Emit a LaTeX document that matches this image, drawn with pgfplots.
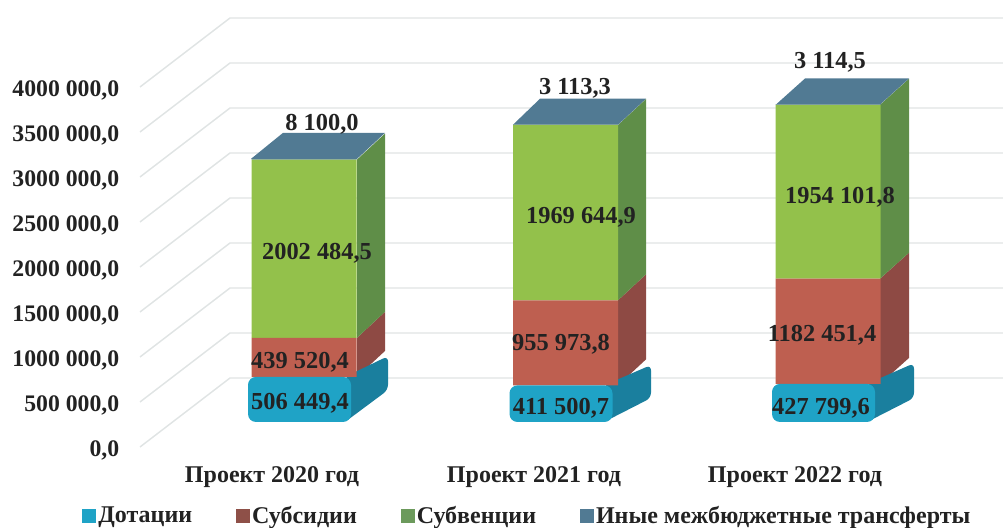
\documentclass[border=0pt]{standalone}
\usepackage{pgfplots}
\usepackage{pgfplotstable}
\usepackage{fontspec}
\setmainfont{Liberation Serif}
\pgfplotsset{compat=1.18}
\definecolor{gridc}{HTML}{E0E4E4}
\definecolor{bluef}{HTML}{1FA3C6}
\definecolor{blues}{HTML}{1A7F9E}
\definecolor{redf}{HTML}{BE5F50}
\definecolor{reds}{HTML}{8E4A44}
\definecolor{greenf}{HTML}{93C14B}
\definecolor{greens}{HTML}{5F8E48}
\definecolor{topc}{HTML}{517A93}
\definecolor{legr}{HTML}{8E5048}
\definecolor{legg}{HTML}{6C9A5C}
\definecolor{txt}{HTML}{222222}
\pgfplotstableread{
x dot sub suv other
304 506449.4 439520.4 2002484.5 8100.0
565.5 411500.7 955973.8 1969644.9 3113.3
828 427799.6 1182451.4 1954101.8 3114.5
}\bars
\pgfplotsset{
 fullframe/.style={at={(0,0)},anchor=south west,scale only axis,width=752.25pt,height=396pt,
   xmin=0,xmax=1003,ymin=-1191011,ymax=4741573,axis lines=none,clip=false,scaled y ticks=false},
 grd/.style={draw=gridc,line width=1.1pt,no markers,forget plot},
 fc/.style={fill=#1,draw=none,no markers,forget plot},
}
\newcommand\lab{\fontsize{18.3}{18.3}\selectfont\bfseries}
\begin{document}
\begin{tikzpicture}
\useasboundingbox (0,0) rectangle (752.25pt,396pt);
% wall and value axis
\begin{axis}[at={(91.5pt,52.5pt)},anchor=south west,scale only axis,width=660.75pt,height=343.5pt,
  xmin=122,xmax=1003,ymin=-122222,ymax=4966667,clip=false,scaled y ticks=false,
  axis line style={draw=none},tick style={draw=none},
  ytick={0,500000,1000000,1500000,2000000,2500000,3000000,3500000,4000000},
  yticklabels={{0,0},{500 000,0},{1000 000,0},{1500 000,0},{2000 000,0},{2500 000,0},{3000 000,0},{3500 000,0},{4000 000,0}},
  xtick={272,534,795},
  xticklabels={Проект 2020 год,Проект 2021 год,Проект 2022 год},
  yticklabel style={font=\fontsize{17.8}{17.8}\selectfont\bfseries,text=txt,xshift=1.5pt,yshift=-2.5pt},
  xticklabel style={font=\fontsize{18}{18}\selectfont\bfseries,text=txt,yshift=-3pt},
]
\addplot[grd] coordinates {(140,0)(230,766667)(1003,766667)};
\addplot[grd] coordinates {(140,500000)(230,1266667)(1003,1266667)};
\addplot[grd] coordinates {(140,1000000)(230,1766667)(1003,1766667)};
\addplot[grd] coordinates {(140,1500000)(230,2266667)(1003,2266667)};
\addplot[grd] coordinates {(140,2000000)(230,2766667)(1003,2766667)};
\addplot[grd] coordinates {(140,2500000)(230,3266667)(1003,3266667)};
\addplot[grd] coordinates {(140,3000000)(230,3766667)(1003,3766667)};
\addplot[grd] coordinates {(140,3500000)(230,4266667)(1003,4266667)};
\addplot[grd] coordinates {(140,4000000)(230,4766667)(1003,4766667)};
\end{axis}
% side and top faces
\begin{axis}[fullframe]
% bar 1
\addplot[fc=reds] coordinates {(357,506449)(357,945970)(385,1238105)(385,798584)} --cycle;
\addplot[fc=greens] coordinates {(357,945970)(357,2948454)(385,3240589)(385,1238105)} --cycle;
\addplot[fc=topc] coordinates {(251,2956554)(357,2956554)(385,3248689)(283,3248689)} --cycle;
\addplot[fc=blues,rounded corners=4pt] coordinates {(345,0)(388,359551)(388,740000)(345,506449)} --cycle;
% bar 2
\addplot[fc=reds] coordinates {(618,411501)(618,1367475)(646,1659610)(646,703636)} --cycle;
\addplot[fc=greens] coordinates {(618,1367475)(618,3337119)(646,3629254)(646,1659610)} --cycle;
\addplot[fc=topc] coordinates {(513,3340233)(618,3340233)(646,3632368)(540,3632368)} --cycle;
\addplot[fc=blues,rounded corners=4pt] coordinates {(604,0)(651,269663)(651,640000)(604,411501)} --cycle;
% bar 3
\addplot[fc=reds] coordinates {(880,427800)(880,1610251)(909,1902386)(909,719935)} --cycle;
\addplot[fc=greens] coordinates {(880,1610251)(880,3564353)(909,3856488)(909,1902386)} --cycle;
\addplot[fc=topc] coordinates {(776,3567467)(880,3567467)(909,3859602)(805,3859602)} --cycle;
\addplot[fc=blues,rounded corners=4pt] coordinates {(867,0)(914,269663)(914,660000)(867,427800)} --cycle;
\end{axis}
% stacked fronts
\begin{axis}[fullframe,ybar stacked,bar width=105,
  legend columns=4,
  legend style={at={(axis description cs:0.526,0.0225)},anchor=center,draw=none,fill=none,
    font=\fontsize{18}{18}\selectfont\bfseries,text=txt,inner sep=0pt,
    /tikz/every even column/.style={column sep=30.75pt}},
  legend image code/.code={\fill[#1] (0pt,-4.8pt) rectangle (9.8pt,5pt);},
]
\addplot[fill=bluef,draw=none,bar width=103,bar shift=-4.5,rounded corners=6pt,forget plot] table[x=x,y=dot] {\bars};
\addplot[fill=redf,draw=none,forget plot] table[x=x,y=sub] {\bars};
\addplot[fill=greenf,draw=none,forget plot] table[x=x,y=suv] {\bars};
\addplot[fill=topc,draw=none,forget plot] table[x=x,y=other] {\bars};
\addlegendimage{bluef}
\addlegendimage{legr}
\addlegendimage{legg}
\addlegendimage{topc}
\legend{Дотации,Субсидии,Субвенции,Иные межбюджетные трансферты}
\end{axis}
% value labels (positions in pixels of the reference)
\begin{scope}[x=0.75pt,y=-0.75pt,yshift=396pt]
\tikzset{v/.style={font=\lab,text=txt,inner sep=0pt}}
\node[v] at (322,124) {8 100,0};
\node[v] at (317,253) {2002 484,5};
\node[v] at (300,362) {439 520,4};
\node[v] at (300,403) {506 449,4};
\node[v] at (575,88) {3 113,3};
\node[v] at (581,217) {1969 644,9};
\node[v] at (561,344) {955 973,8};
\node[v] at (561,408) {411 500,7};
\node[v] at (830,62) {3 114,5};
\node[v] at (840,197) {1954 101,8};
\node[v] at (822,335) {1182 451,4};
\node[v] at (821,408) {427 799,6};
\end{scope}
\end{tikzpicture}
\end{document}
